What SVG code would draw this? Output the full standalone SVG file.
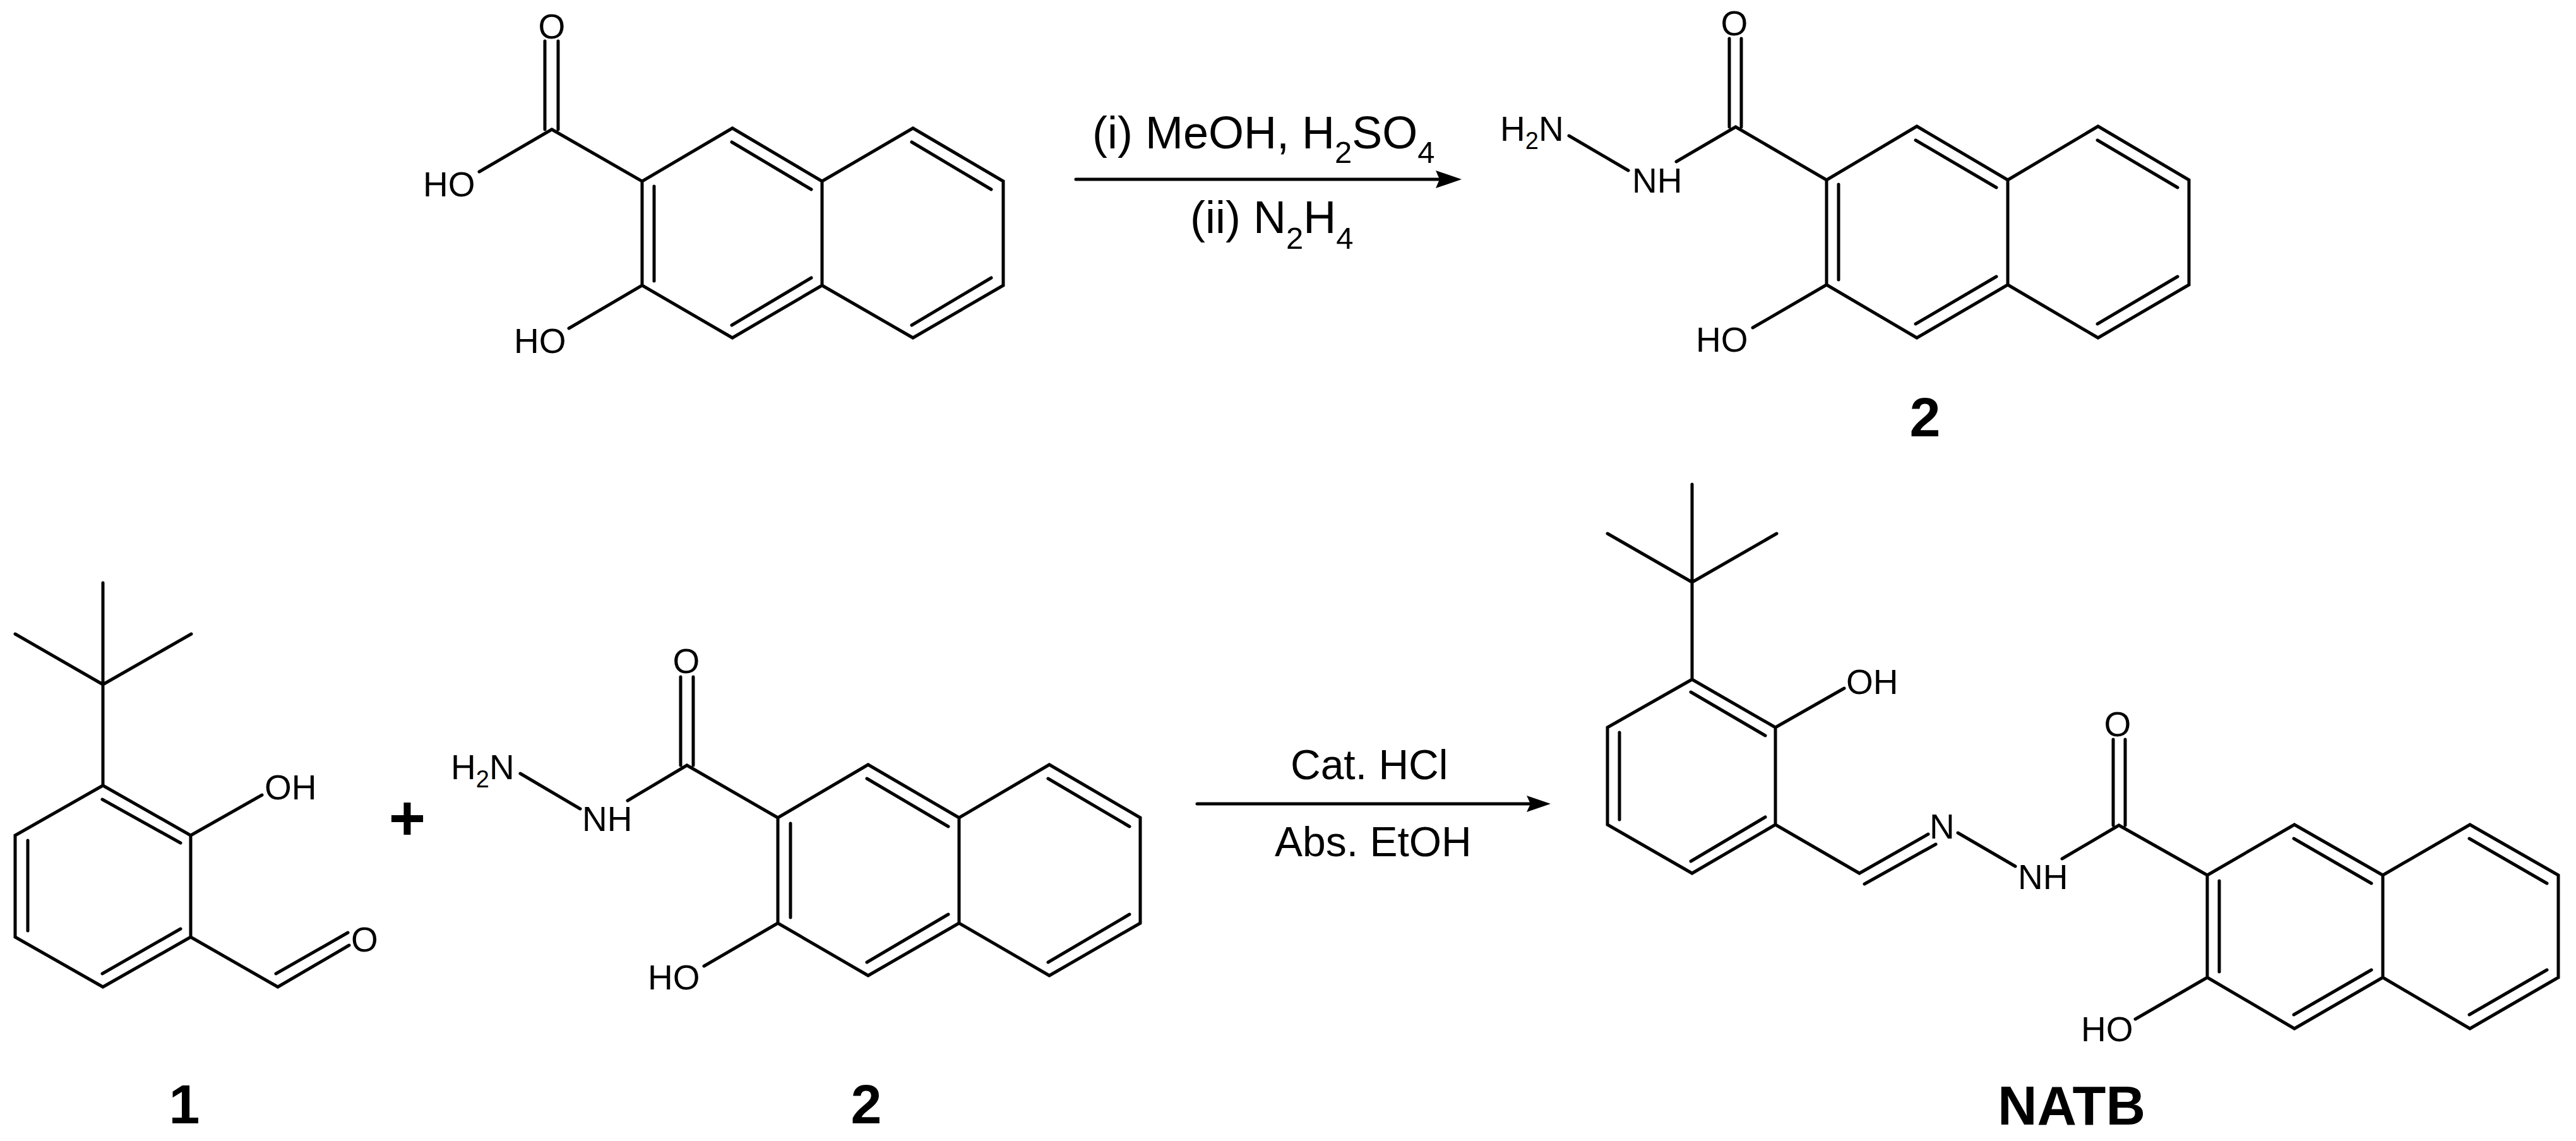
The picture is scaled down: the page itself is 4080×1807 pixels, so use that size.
<svg xmlns="http://www.w3.org/2000/svg" width="4080" height="1807" viewBox="0 0 4080 1807">
<style>
.b{fill:none;stroke:#000;stroke-width:5;stroke-linecap:round;stroke-linejoin:miter}
.a{stroke-width:5;stroke:#000;fill:none;stroke-linecap:round}
text{font-family:"Liberation Sans",Arial,sans-serif;fill:#000}
.t{font-size:55px}
.s{font-size:38px}
.r{font-size:72px}
.rs{font-size:49px}
.c{font-size:66px}
.l{font-size:88px;font-weight:bold}
.m{text-anchor:middle}
</style>
<defs>
<marker id="h1" markerUnits="userSpaceOnUse" markerWidth="41" markerHeight="28" refX="6" refY="14" orient="auto"><path d="M0 0L41 14L0 28L6 14Z" fill="#000"/></marker>
<marker id="h2" markerUnits="userSpaceOnUse" markerWidth="38" markerHeight="26" refX="6" refY="13" orient="auto"><path d="M0 0L38 13L0 26L6 13Z" fill="#000"/></marker>
</defs>
<rect width="4080" height="1807" fill="#fff"/>

<g id="acid">
<path class="b" d="M1017 287L1160 203L1302 287L1302 452L1160 535L1017 452ZM1302 287L1446 203L1589 287L1589 452L1446 535L1302 452M759 272L874 205L1017 287M1017 452L901 520M863 65V205M884 65V205M1036 295V445M1159 225L1285 300M1444 225L1570 300M1159 515L1285 440M1444 515L1570 440"/>
<text class="t m" x="874" y="61">O</text>
<text class="t" x="670" y="311">HO</text>
<text class="t" x="814" y="559">HO</text>
</g>

<g id="compound-2-top">
<path class="b" d="M2893 285L3036 200L3180 285L3180 451L3036 535L2893 451ZM3180 285L3323 200L3467 285L3467 451L3323 535L3180 451M2655 256L2749 201L2893 285M2485 215L2579 270M2893 451L2776 519M2739 61V201M2758 61V201M2912 292V443M3034 222L3162 297M3322 222L3449 297M3034 513L3162 438M3322 513L3449 438"/>
<text class="t m" x="2747" y="56">O</text>
<text class="t" x="2376" y="223">H<tspan class="s" dy="13">2</tspan><tspan dy="-13">N</tspan></text>
<text class="t" x="2585" y="305">NH</text>
<text class="t" x="2686" y="557">HO</text>
<text class="l m" x="3049" y="691">2</text>
</g>

<g id="compound-1">
<path class="b" d="M163 923V1244M24 1004L163 1084L303 1004M163 1244L302 1323V1484L163 1563L24 1484V1323ZM162 1266L286 1335M44 1331V1474M162 1542L286 1471M302 1323L415 1259M302 1484L440 1563L553 1497M437 1542L551 1477"/>
<text class="t" x="419" y="1266">OH</text>
<text class="t" x="556" y="1507">O</text>
<text class="l m" x="292" y="1779">1</text>
</g>

<g id="plus"><text class="m" x="645" y="1330" font-size="100" font-weight="bold">+</text></g>

<g id="compound-2-bottom">
<path class="b" d="M1232 1295L1375 1211L1519 1295L1519 1462L1375 1545L1232 1462ZM1519 1295L1662 1211L1806 1295L1806 1462L1662 1545L1519 1462M994 1268L1088 1212L1232 1295M824 1225L919 1281M1232 1462L1115 1530M1078 1072V1212M1098 1072V1212M1252 1304V1453M1373 1233L1502 1309M1660 1233L1789 1309M1373 1524L1502 1448M1660 1524L1789 1448"/>
<text class="t m" x="1087" y="1066">O</text>
<text class="t" x="714" y="1234">H<tspan class="s" dy="13">2</tspan><tspan dy="-13">N</tspan></text>
<text class="t" x="922" y="1316">NH</text>
<text class="t" x="1026" y="1567">HO</text>
<text class="l m" x="1372" y="1779">2</text>
</g>

<g id="natb">
<path class="b" d="M2680 767V1076M2546 845L2680 922L2814 845M2680 1076L2812 1152V1306L2680 1383L2546 1306V1152ZM2678 1096L2796 1165M2565 1160V1298M2678 1364L2796 1294M2812 1152L2921 1090M2812 1306L2945 1383L3054 1321M2953 1400L3066 1337M3101 1319L3192 1372M3266 1360L3356 1307L3496 1386M3347 1171V1307M3366 1171V1307M3496 1386L3634 1306L3774 1386L3774 1548L3634 1629L3496 1548ZM3774 1386L3912 1306L4052 1386L4052 1548L3912 1629L3774 1548M3496 1548L3382 1614M3515 1395V1539M3633 1328L3756 1399M3911 1328L4034 1399M3633 1607L3756 1536M3911 1607L4034 1536"/>
<text class="t" x="2924" y="1099">OH</text>
<text class="t" x="3056" y="1328">N</text>
<text class="t" x="3196" y="1408">NH</text>
<text class="t m" x="3354" y="1166">O</text>
<text class="t" x="3296" y="1649">HO</text>
<text class="l" x="3164" y="1781" textLength="234" lengthAdjust="spacingAndGlyphs">NATB</text>
</g>

<g id="connectors">
<line class="a" x1="1704" y1="284" x2="2280" y2="284" marker-end="url(#h1)"/>
<line class="a" x1="1896" y1="1273" x2="2424" y2="1273" marker-end="url(#h2)"/>
</g>

<g id="reagents">
<text class="r" x="1730" y="235">(i) MeOH, H<tspan class="rs" dy="23">2</tspan><tspan dy="-23">SO</tspan><tspan class="rs" dy="23">4</tspan></text>
<text class="r" x="1885" y="369">(ii) N<tspan class="rs" dy="25">2</tspan><tspan dy="-25">H</tspan><tspan class="rs" dy="25">4</tspan></text>
<text class="c" x="2044" y="1234">Cat. HCl</text>
<text class="c" x="2019" y="1356">Abs. EtOH</text>
</g>
</svg>
